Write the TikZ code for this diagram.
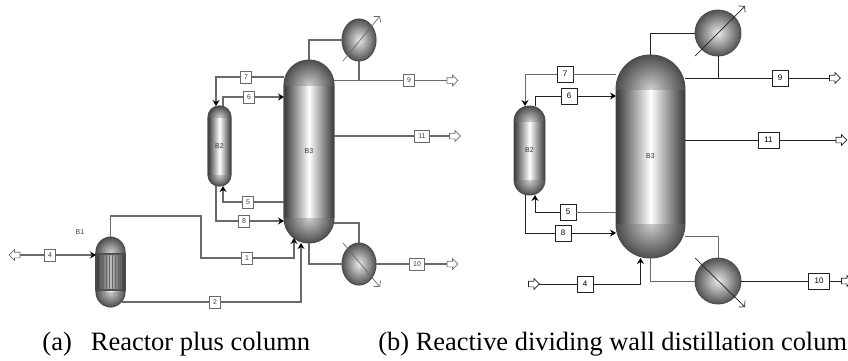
\documentclass[tikz,border=0pt]{standalone}
\usepackage{fontspec}
\setmainfont{Liberation Serif}
\setsansfont{Liberation Sans}
\usetikzlibrary{arrows.meta,positioning,shapes.geometric,shapes.arrows}
\definecolor{lineColor}{HTML}{6A6A6A}
\definecolor{darkLine}{HTML}{222222}
\tikzset{
	feed/.style={-{Stealth[inset=2pt,length=6pt,width=7pt,color=black]}},
	stream/.style={draw=#1, fill=white, text=black!75, line width=0.9pt, inner sep=0, outer sep=0, font=\sffamily\fontsize{7}{7}\selectfont, minimum width=11pt, minimum height=12pt},
	bigstream/.style={stream=darkLine, text=black, minimum width=16pt, minimum height=16pt, font=\sffamily\fontsize{8}{8}\selectfont},
	port/.style={draw=#1, fill=white, single arrow, line width=0.7pt, inner sep=2.5pt, outer sep=0, minimum height=11pt, single arrow head extend=2.5pt},
	vessel/.style={draw=black!70, text=black!80, rounded corners=#1, inner sep=0, outer sep=0, font=\sffamily\fontsize{7}{7}\selectfont,
		path picture={
			\shade[sharp corners, left color=black!78, right color=black!78, middle color=white] (path picture bounding box.south west) rectangle (path picture bounding box.north east);
			\begin{scope}
				\clip[sharp corners] ([yshift=-#1]path picture bounding box.north west) rectangle (path picture bounding box.north east);
				\shade[sharp corners, inner color=black!20, outer color=black!72] ([yshift=-#1]path picture bounding box.north) circle (#1*1.05);
			\end{scope}
			\begin{scope}
				\clip[sharp corners] ([yshift=#1]path picture bounding box.south west) rectangle (path picture bounding box.south east);
				\shade[sharp corners, inner color=black!20, outer color=black!72] ([yshift=#1]path picture bounding box.south) circle (#1*1.05);
			\end{scope}
	}},
	exch/.style={draw=black!70, ellipse, inner sep=0, outer sep=0, inner color=black!8, outer color=black!68},
	barb/.style={-{Straight Barb[length=4pt,width=9pt]}, line width=0.7pt}
}
\begin{document}
\begin{tikzpicture}[x=1pt,y=-1pt,line width=0.9pt]
	\useasboundingbox (0,0) rectangle (848,360);
	\clip (0,0) rectangle (848,360);
	% reactor plus column
	\begin{scope}[lineColor,line width=1.1pt]
		\node[vessel=25pt, minimum width=50pt, minimum height=183pt] (a3) at (309, 151.5) {B3};
		\node[vessel=11pt, minimum width=23pt, minimum height=80pt] (a2) at (219.5, 146) {B2};
		\node[vessel=15pt, minimum width=29pt, minimum height=70pt] (a1) at (110.5, 272) {};
		\node[exch, minimum width=34pt, minimum height=42pt] (acon) at (359, 40) {};
		\node[exch, minimum width=34pt, minimum height=42pt] (areb) at (359, 264) {};
		\node[draw=black!70, left color=black!80, right color=black!80, middle color=black!25, minimum width=29pt, minimum height=36pt, inner sep=0, outer sep=0] (atube) at (110.5, 272) {};
		\foreach \i in {-10,-7,...,11}
			\draw[black!60, line width=0.5pt] ([xshift=\i pt]atube.north) -- ([xshift=\i pt]atube.south);
		\node[text=black!75, font=\sffamily\fontsize{7}{7}\selectfont] (a1lab) at (80, 232) {B1};

		\node[stream=lineColor] (a4) at (50, 255) {4};
		\node[stream=lineColor] (a1s) at (247, 258) {1};
		\node[stream=lineColor] (a2s) at (215, 302) {2};
		\node[stream=lineColor] (a5) at (248, 202) {5};
		\node[stream=lineColor] (a6) at (249, 97) {6};
		\node[stream=lineColor] (a7) at (246, 77) {7};
		\node[stream=lineColor] (a8) at (244, 221) {8};
		\node[stream=lineColor] (a9) at (409, 80.5) {9};
		\node[stream=lineColor, minimum width=15pt] (a10) at (417, 264) {10};
		\node[stream=lineColor, minimum width=15pt] (a11) at (422, 136) {11};
		\node[port=lineColor, shape border rotate=180] (ain) at (16, 255) {};
		\node[port=lineColor] (a9o) at (451, 80.5) {};
		\node[port=lineColor] (a10o) at (451, 264) {};
		\node[port=lineColor] (a11o) at (453.5, 136) {};

		\coordinate (a1t) at (110.5, 216);
		\coordinate (a1m) at (201, 216);
		\coordinate (a2e) at (122, 302);
		\coordinate (acf) at (343, 61);
		\coordinate (act) at (380, 16);
		\coordinate (arf) at (343, 243);
		\coordinate (art) at (380, 287);

		\draw (ain.tail) -- (a4);
		\draw[feed] (a4) -- (a4 -| a1.west);
		\draw (a1.north) -- (a1t) -- (a1m) |- (a1s);
		\draw[feed] (a1s) -| ([shift={(-15pt,5pt)}]a3.south);
		\draw (a2e) -- (a2s);
		\draw[feed] (a2s) -| ([xshift=-8pt]a3.south);
		\draw (a7 -| a3.west) -- (a7);
		\draw[feed] (a7) -| ([xshift=-3.5pt]a2.north);
		\draw ([xshift=3.5pt]a2.north) |- (a6);
		\draw[feed] (a6) -- (a6 -| a3.west);
		\draw (a5 -| a3.west) -- (a5);
		\draw[feed] (a5) -| ([xshift=3.5pt]a2.south);
		\draw ([xshift=-3.5pt]a2.south) |- (a8);
		\draw[feed] (a8) -- (a8 -| a3.west);
		\draw (a3.north) |- (acon.west);
		\draw (acon.south) -- (acon |- a9o);
		\draw (a9o -| a3.east) -- (a9);
		\draw (a9) -- (a9o.tail);
		\draw (a11 -| a3.east) -- (a11);
		\draw (a11) -- (a11o.tail);
		\draw (a3.south) |- (areb.west);
		\draw (areb.north) |- ([yshift=20pt]a3.south east);
		\draw (areb.east) -- (a10);
		\draw (a10) -- (a10o.tail);
		\draw[barb] (acf) -- (act);
		\draw[barb] (arf) -- (art);
	\end{scope}
	% dividing wall column
	\begin{scope}[darkLine]
		\node[vessel=34pt, minimum width=69pt, minimum height=203pt] (b3) at (650.5, 156.5) {B3};
		\node[vessel=15pt, minimum width=31pt, minimum height=89pt] (b2) at (529.5, 150.5) {B2};
		\node[exch, minimum size=46pt] (bcon) at (718, 33) {};
		\node[exch, minimum size=46pt] (breb) at (718, 281) {};

		\node[bigstream] (b4) at (585, 284) {4};
		\node[bigstream] (b5) at (568, 212) {5};
		\node[bigstream] (b6) at (569, 96) {6};
		\node[bigstream] (b7) at (565, 74) {7};
		\node[bigstream] (b8) at (563, 233) {8};
		\node[bigstream] (b9) at (780, 78) {9};
		\node[bigstream, minimum width=21pt] (b10) at (819, 281) {10};
		\node[bigstream, minimum width=21pt] (b11) at (768.5, 140) {11};
		\node[port=darkLine] (bin) at (532.5, 284) {};
		\node[port=darkLine] (b9o) at (833.5, 78) {};
		\node[port=darkLine] (b10o) at (845.5, 281) {};
		\node[port=darkLine] (b11o) at (840, 140) {};

		\coordinate (bcf) at (695, 56);
		\coordinate (bct) at (745, 6);
		\coordinate (brf) at (695, 258);
		\coordinate (brt) at (745, 307);

		\draw (bin.tip) -- (b4);
		\draw[feed] (b4) -| ([xshift=-10pt]b3.south);
		\draw[lineColor] (b7 -| b3.west) -- (b7);
		\draw[feed, lineColor] (b7) -| ([xshift=-4.5pt]b2.north);
		\draw ([xshift=5.5pt]b2.north) |- (b6);
		\draw[feed] (b6) -- (b6 -| b3.west);
		\draw[lineColor] (b5 -| b3.west) -- (b5);
		\draw[feed] (b5) -| ([xshift=5.5pt]b2.south);
		\draw ([xshift=-4.5pt]b2.south) |- (b8);
		\draw[feed] (b8) -- (b8 -| b3.west);
		\draw (b3.north) |- (bcon.west);
		\draw (bcon.south) -- (bcon |- b9o);
		\draw (b9o -| b3.east) -- (b9);
		\draw (b9) -- (b9o.tail);
		\draw (b11 -| b3.east) -- (b11);
		\draw (b11) -- (b11o.tail);
		\draw[lineColor] (b3.south) |- (breb.west);
		\draw[lineColor] (breb.north) |- ([yshift=22pt]b3.south east);
		\draw (breb.east) -- (b10);
		\draw (b10) -- (b10o.tail);
		\draw[barb] (bcf) -- (bct);
		\draw[barb] (brf) -- (brt);
	\end{scope}
	\node[anchor=base west, inner sep=0, font=\fontsize{26.5}{26.5}\selectfont] (capa) at (42, 350) {(a)\hspace{19pt}Reactor plus column};
	\node[anchor=base west, inner sep=0, font=\fontsize{26.4}{26.4}\selectfont] (capb) at (378, 350) {(b) Reactive dividing wall distillation colum};
\end{tikzpicture}
\end{document}
